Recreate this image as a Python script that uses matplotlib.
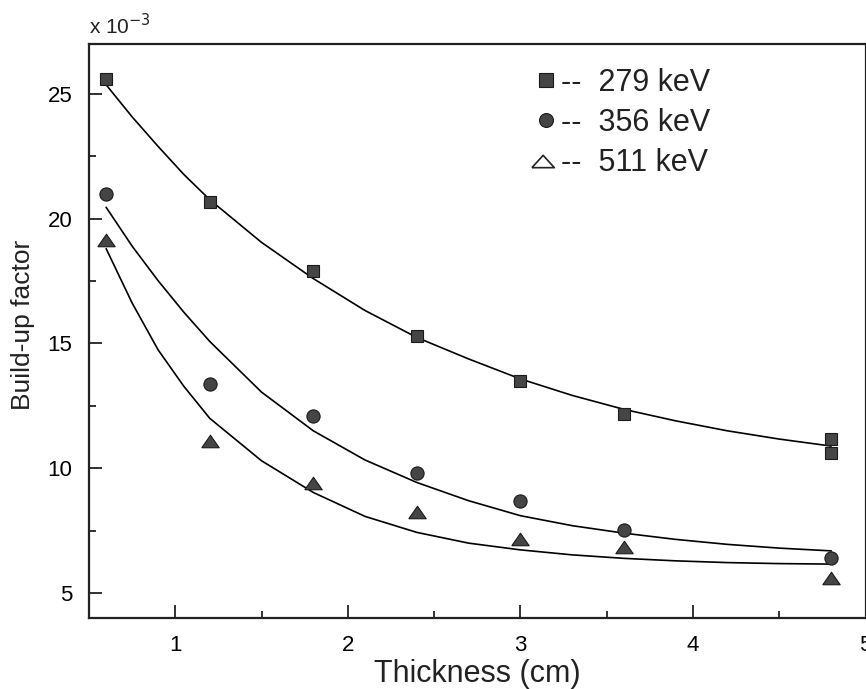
import numpy as np
import matplotlib
matplotlib.use('Agg')
import matplotlib.pyplot as plt
from matplotlib.lines import Line2D

plt.rcParams['font.family'] = ['Liberation Sans', 'DejaVu Sans']

# measured points (build-up factor, x 10^-3)
x_279 = [0.6, 1.2, 1.8, 2.4, 3.0, 3.6, 4.8, 4.8]
y_279 = [25.59, 20.66, 17.89, 15.29, 13.49, 12.16, 11.19, 10.60]

x_356 = [0.6, 1.2, 1.8, 2.4, 3.0, 3.6, 4.8]
y_356 = [20.99, 13.36, 12.09, 9.83, 8.67, 7.52, 6.39]

x_511 = [0.6, 1.2, 1.8, 2.4, 3.0, 3.6, 4.8]
y_511 = [19.16, 11.09, 9.40, 8.23, 7.16, 6.83, 5.59]

# fitted curves
x_fit = [0.6, 0.75, 0.9, 1.05, 1.2, 1.5, 1.8, 2.1, 2.4, 2.7, 3.0, 3.3, 3.6, 3.9, 4.2, 4.5, 4.8]
fit_279 = [25.36, 24.08, 22.90, 21.77, 20.76, 19.05, 17.60, 16.32, 15.24, 14.38, 13.58,
           12.92, 12.36, 11.90, 11.50, 11.17, 10.89]
fit_356 = [20.45, 18.90, 17.52, 16.25, 15.08, 13.05, 11.50, 10.33, 9.43, 8.70, 8.10,
           7.70, 7.40, 7.15, 6.95, 6.80, 6.69]
fit_511 = [18.79, 16.62, 14.75, 13.28, 12.00, 10.30, 9.03, 8.07, 7.43, 7.00, 6.73,
           6.53, 6.39, 6.29, 6.22, 6.18, 6.16]

labels = ['279 keV', '356 keV', '511 keV']

fc = '#454545'
ec = '#1a1a1a'
tri = [(-1, -0.72), (1, -0.72), (0, 0.72), (-1, -0.72)]

fig = plt.figure(figsize=(8.66, 6.89), dpi=100)
ax = fig.add_axes([89/866, 1 - 618/689, (865.5 - 89)/866, (618 - 44)/689])

ax.plot(x_fit, fit_279, color='k', lw=1.2)
ax.plot(x_fit, fit_356, color='k', lw=1.2)
ax.plot(x_fit, fit_511, color='k', lw=1.2)

ax.plot(x_279, y_279, ls='none', marker='s', ms=8.5, mfc=fc, mec=ec, mew=0.8)
ax.plot(x_356, y_356, ls='none', marker='o', ms=9.5, mfc=fc, mec=ec, mew=0.8)
ax.plot(x_511, y_511, ls='none', marker=tri, ms=12.5, mfc=fc, mec=ec, mew=0.8)

ax.set_xlim(0.5, 5.0)
ax.set_ylim(4.0, 27.0)
ax.set_xticks([1, 2, 3, 4, 5])
ax.set_xticks([1.5, 2.5, 3.5, 4.5], minor=True)
ax.set_yticks([5, 10, 15, 20, 25])
ax.set_yticks([7.5, 12.5, 17.5, 22.5], minor=True)
ax.tick_params(which='both', direction='in', top=False, right=False,
               labelsize=16, pad=12, width=1.3, color='#222222')
ax.tick_params(which='major', length=9.5)
ax.tick_params(which='minor', length=5)
for s in ax.spines.values():
    s.set_linewidth(1.6)
    s.set_color('#222222')

ax.set_xlabel('Thickness (cm)', fontsize=22, color='#222222')
ax.xaxis.set_label_coords(0.5, -0.072)
ax.set_ylabel('Build-up factor', fontsize=19, color='#222222')
ax.yaxis.set_label_coords(-0.07, 0.51)

ax.text(0.0, 1.01, r'x 10$^{-3}$', transform=ax.transAxes, fontsize=15,
        ha='left', va='bottom', color='#222222')

tri_open = [(-1.3, -0.55), (0.7, -0.55), (-0.3, 0.55), (-1.3, -0.55)]
handles = [
    Line2D([], [], ls='none', marker='s', ms=9.5, mfc=fc, mec=ec, mew=0.8),
    Line2D([], [], ls='none', marker='o', ms=10, mfc=fc, mec=ec, mew=0.8),
    Line2D([], [], ls='none', marker=tri_open, ms=21, mfc='none', mec='#222222', mew=1.2),
]
leg = ax.legend(handles, ['--  ' + l for l in labels], loc='upper left',
                bbox_to_anchor=(0.569, 0.958), frameon=False, fontsize=22,
                handlelength=1.0, handletextpad=0.0, labelspacing=0.33,
                borderpad=0, borderaxespad=0)
for t in leg.get_texts():
    t.set_color('#222222')

fig.savefig('out.png', dpi=100)
